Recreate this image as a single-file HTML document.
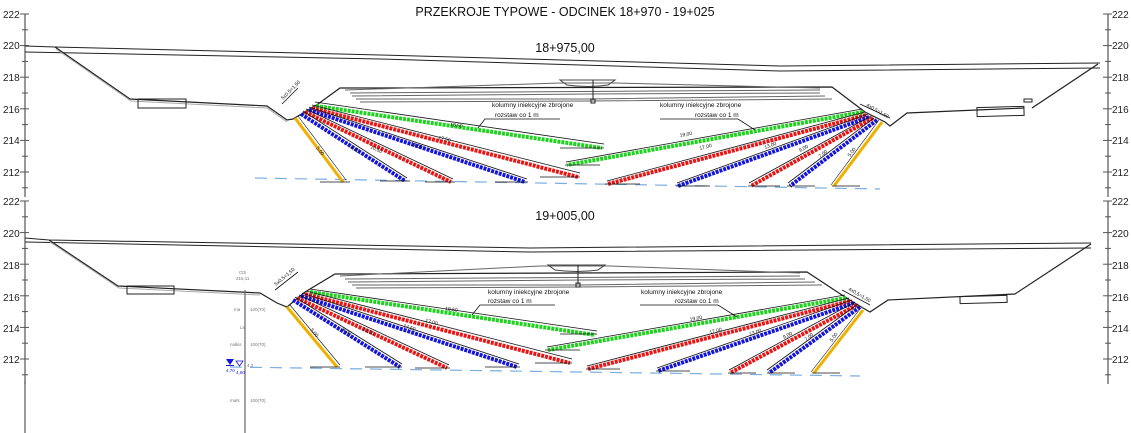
<!DOCTYPE html>
<html><head><meta charset="utf-8"><style>
html,body{margin:0;padding:0;background:#fff;}
svg{display:block;font-family:"Liberation Sans",sans-serif;}
</style></head><body>
<svg width="1131" height="433" viewBox="0 0 1131 433" xmlns="http://www.w3.org/2000/svg">
<rect width="1131" height="433" fill="#fff"/>
<defs>
<g id="axisL">
  <line x1="25" y1="0" x2="25" y2="183" stroke="#555" stroke-width="1.2"/>
  <g stroke="#555" stroke-width="1">
    <line x1="20" y1="0" x2="29" y2="0"/><line x1="22" y1="15.8" x2="28" y2="15.8"/>
    <line x1="20" y1="31.6" x2="29" y2="31.6"/><line x1="22" y1="47.4" x2="28" y2="47.4"/>
    <line x1="20" y1="63.2" x2="29" y2="63.2"/><line x1="22" y1="79" x2="28" y2="79"/>
    <line x1="20" y1="94.8" x2="29" y2="94.8"/><line x1="22" y1="110.6" x2="28" y2="110.6"/>
    <line x1="20" y1="126.4" x2="29" y2="126.4"/><line x1="22" y1="142.2" x2="28" y2="142.2"/>
    <line x1="20" y1="158" x2="29" y2="158"/><line x1="22" y1="173.8" x2="28" y2="173.8"/>
  </g>
</g>
</defs>

<!-- title -->
<text x="565" y="16" font-size="12.5" text-anchor="middle" fill="#111">PRZEKROJE TYPOWE - ODCINEK 18+970 - 19+025</text>
<text x="565" y="52" font-size="12.5" text-anchor="middle" fill="#111">18+975,00</text>
<text x="565" y="220" font-size="12.5" text-anchor="middle" fill="#111">19+005,00</text>

<!-- axes top -->
<g transform="translate(0,14)"><use href="#axisL"/></g>
<g transform="translate(1083,14)"><use href="#axisL"/></g>
<g font-size="10" fill="#222">
<text x="3" y="18">222</text><text x="3" y="49">220</text><text x="3" y="81">218</text><text x="3" y="113">216</text><text x="3" y="144">214</text><text x="3" y="176">212</text>
<text x="1112" y="18">222</text><text x="1112" y="49">220</text><text x="1112" y="81">218</text><text x="1112" y="113">216</text><text x="1112" y="144">214</text><text x="1112" y="176">212</text>
</g>
<!-- axes bottom -->
<g transform="translate(0,201)"><use href="#axisL"/></g>
<g transform="translate(1083,201)"><use href="#axisL"/></g>
<g transform="translate(0,201) translate(25,0)"><line x1="0" y1="180" x2="0" y2="232" stroke="#555" stroke-width="1.2"/></g>
<g font-size="10" fill="#222">
<text x="3" y="205">222</text><text x="3" y="237">220</text><text x="3" y="269">218</text><text x="3" y="301">216</text><text x="3" y="332">214</text><text x="3" y="363">212</text>
<text x="1112" y="205">222</text><text x="1112" y="237">220</text><text x="1112" y="269">218</text><text x="1112" y="301">216</text><text x="1112" y="332">214</text><text x="1112" y="363">212</text>
</g>

<!-- ================= TOP SECTION ================= -->
<g fill="none" stroke="#222" stroke-width="1">
  <polyline points="25,46 55,47 380,55 780,66 1100,63"/>
  <polyline points="25,52 380,59 780,71 1100,68"/>
  <polyline points="55,47 130,99 267,106 287,120 293,119 318,104" stroke-width="1.2"/>
  <polyline points="56,49 131,101 267,108 287,122" stroke="#aaa"/>
  <rect x="138" y="99" width="48" height="9"/>
  <!-- structure -->
  <polyline points="318,104 340,88 832,87 865,112" stroke-width="1.2"/>
  <polyline points="345,90 560,83 615,83 820,88" stroke="#666"/>
  <polyline points="350,93 820,90" stroke="#666"/>
  <polyline points="352,96 590,94 820,93" stroke="#666"/>
  <polyline points="356,99 590,99 825,96" stroke="#666"/>
  <polyline points="360,102 590,101 832,99" stroke="#666"/>
  <path d="M560,80 L615,80 L608,85 Q588,88 567,85 Z" stroke="#444"/>
  <line x1="593" y1="80" x2="593" y2="100"/>
  <rect x="591" y="99" width="4" height="4" stroke="#222"/>
  <!-- right ground -->
  <polyline points="865,112 885,122 890,126 907,113 977,110 1024,108" stroke-width="1.2"/>
  <rect x="977" y="107" width="47" height="9" transform="rotate(-1.5 1000 111)"/>
  <rect x="1024" y="99" width="8" height="3"/>
  <polyline points="1032,108 1098,64" stroke-width="1.2"/>
</g>
<!-- water line top -->
<line x1="255" y1="178" x2="880" y2="189" stroke="#7aaee0" stroke-width="1.2" stroke-dasharray="12,8"/>

<!-- columns top left -->
<g stroke-linecap="butt">
  <line x1="315" y1="102" x2="604" y2="144" stroke="#111" stroke-width="0.8"/>
  <line x1="316" y1="106" x2="602" y2="148" stroke="#1ed21e" stroke-width="4" stroke-dasharray="3,1"/>
  <line x1="312" y1="105" x2="580" y2="173" stroke="#111" stroke-width="0.8"/>
  <line x1="312" y1="108" x2="578" y2="177" stroke="#e81515" stroke-width="4" stroke-dasharray="3,1"/>
  <line x1="309" y1="107" x2="527" y2="179" stroke="#111" stroke-width="0.8"/>
  <line x1="309" y1="110" x2="525" y2="182" stroke="#1515d8" stroke-width="4" stroke-dasharray="3,1"/>
  <line x1="306" y1="109" x2="453" y2="179" stroke="#111" stroke-width="0.8"/>
  <line x1="305" y1="112" x2="451" y2="182" stroke="#e81515" stroke-width="4" stroke-dasharray="3,1"/>
  <line x1="303" y1="111" x2="407" y2="178" stroke="#111" stroke-width="0.8"/>
  <line x1="301" y1="114" x2="405" y2="181" stroke="#1515d8" stroke-width="4" stroke-dasharray="3,1"/>
  <line x1="295" y1="118" x2="343" y2="182" stroke="#f0b000" stroke-width="3"/>
  <line x1="298" y1="116" x2="346" y2="180" stroke="#111" stroke-width="0.6"/>
</g>
<!-- columns top right -->
<g>
  <line x1="862" y1="109" x2="566" y2="162" stroke="#111" stroke-width="0.8"/>
  <line x1="863" y1="112" x2="567" y2="165" stroke="#1ed21e" stroke-width="4" stroke-dasharray="3,1"/>
  <line x1="865" y1="112" x2="607" y2="181" stroke="#111" stroke-width="0.8"/>
  <line x1="866" y1="115" x2="608" y2="184" stroke="#e81515" stroke-width="4" stroke-dasharray="3,1"/>
  <line x1="868" y1="114" x2="677" y2="183" stroke="#111" stroke-width="0.8"/>
  <line x1="869" y1="117" x2="678" y2="186" stroke="#1515d8" stroke-width="4" stroke-dasharray="3,1"/>
  <line x1="871" y1="116" x2="749" y2="183" stroke="#111" stroke-width="0.8"/>
  <line x1="873" y1="118" x2="751" y2="186" stroke="#e81515" stroke-width="4" stroke-dasharray="3,1"/>
  <line x1="874" y1="118" x2="788" y2="183" stroke="#111" stroke-width="0.8"/>
  <line x1="877" y1="120" x2="790" y2="186" stroke="#1515d8" stroke-width="4" stroke-dasharray="3,1"/>
  <line x1="879" y1="120" x2="831" y2="185" stroke="#111" stroke-width="0.6"/>
  <line x1="882" y1="122" x2="834" y2="186" stroke="#f0b000" stroke-width="3"/>
</g>
<!-- end marks top -->
<g stroke="#111" stroke-width="0.8">
  <line x1="320" y1="182" x2="350" y2="182"/><line x1="380" y1="181" x2="410" y2="181"/><line x1="425" y1="182" x2="455" y2="182"/>
  <line x1="495" y1="182" x2="528" y2="182"/><line x1="560" y1="148" x2="604" y2="148"/><line x1="540" y1="177" x2="580" y2="177"/>
  <line x1="605" y1="184" x2="640" y2="184"/><line x1="676" y1="186" x2="710" y2="186"/><line x1="748" y1="186" x2="780" y2="186"/>
  <line x1="787" y1="186" x2="815" y2="186"/><line x1="832" y1="186" x2="860" y2="186"/><line x1="565" y1="165" x2="600" y2="165"/>
  <line x1="282" y1="104" x2="298" y2="88"/><line x1="860" y1="104" x2="890" y2="118"/>
</g>
<g font-size="5" fill="#111">
  <text x="283" y="100" transform="rotate(-45 283 100)">5x0,5=1,50</text>
  <text x="866" y="106" transform="rotate(30 866 106)">4x0,5=1,50</text>
  <text x="450" y="126" transform="rotate(8 450 126)">18,50</text>
  <text x="438" y="139" transform="rotate(14 438 139)">17,50</text>
  <text x="410" y="145" transform="rotate(18 410 145)">14,50</text>
  <text x="370" y="148" transform="rotate(25 370 148)">10,50</text>
  <text x="350" y="148" transform="rotate(32 350 148)">8,00</text>
  <text x="316" y="148" transform="rotate(53 316 148)">5,00</text>
  <text x="680" y="137" transform="rotate(-10 680 137)">19,00</text>
  <text x="700" y="150" transform="rotate(-15 700 150)">17,00</text>
  <text x="765" y="149" transform="rotate(-20 765 149)">13,00</text>
  <text x="800" y="152" transform="rotate(-28 800 152)">9,00</text>
  <text x="820" y="158" transform="rotate(-37 820 158)">7,00</text>
  <text x="850" y="157" transform="rotate(-53 850 157)">5,00</text>
</g>
<!-- labels top -->
<g font-size="6.5" fill="#111">
  <text x="492" y="107">kolumny iniekcyjne zbrojone</text>
  <text x="495" y="117">rozstaw co 1 m</text>
  <text x="660" y="107">kolumny iniekcyjne zbrojone</text>
  <text x="695" y="117">rozstaw co 1 m</text>
</g>
<g stroke="#111" stroke-width="0.8" fill="none">
  <polyline points="560,119 485,119 478,128"/>
  <polyline points="660,119 738,119 755,130"/>
</g>

<!-- ================= BOTTOM SECTION ================= -->
<g fill="none" stroke="#222" stroke-width="1">
  <polyline points="25,238 49,240 530,248 1091,243"/>
  <polyline points="25,242 530,252 1091,248"/>
  <polyline points="49,240 118,286 260,293 277,303 287,307 305,292" stroke-width="1.2"/>
  <polyline points="50,242 119,288 260,295" stroke="#aaa"/>
  <rect x="127" y="286" width="47" height="8"/>
  <polyline points="305,292 335,274 807,272 845,297" stroke-width="1.2"/>
  <polyline points="340,276 540,266 610,266 800,273" stroke="#666"/>
  <polyline points="345,279 800,276" stroke="#666"/>
  <polyline points="348,282 580,280 805,279" stroke="#666"/>
  <polyline points="352,285 580,285 815,282" stroke="#666"/>
  <polyline points="356,288 580,287 822,285" stroke="#666"/>
  <path d="M548,265 L605,265 L598,270 Q577,273 555,270 Z" stroke="#444"/>
  <line x1="578" y1="265" x2="578" y2="284"/>
  <rect x="576" y="283" width="4" height="4"/>
  <polyline points="845,297 863,308 870,312 888,300 1015,294 1091,244" stroke-width="1.2"/>
  <rect x="960" y="296" width="47" height="7" transform="rotate(-1.5 983 299)"/>
</g>
<line x1="230" y1="367" x2="860" y2="376" stroke="#7aaee0" stroke-width="1.2" stroke-dasharray="12,8"/>
<!-- borehole -->
<line x1="245" y1="290" x2="245" y2="433" stroke="#666" stroke-width="1.2"/>
<g font-size="4.5" fill="#777">
  <text x="239" y="274">Ct5</text><text x="236" y="280">216,11</text>
  <text x="234" y="311">ma</text><text x="250" y="311">100(70)</text>
  <text x="240" y="329">Ls</text>
  <text x="230" y="346">nalkis</text><text x="250" y="346">100(70)</text>
  <text x="247" y="367">4,3</text>
  <text x="230" y="402">maN</text><text x="250" y="402">100(70)</text>
</g>
<g fill="#1515d8">
  <polygon points="226,359 234,359 230,365"/><rect x="226" y="365" width="8" height="1"/>
  <polygon points="236,361 243,361 239.5,366" fill="none" stroke="#1515d8" stroke-width="0.8"/>
  <text x="226" y="372" font-size="4.5">4,70</text><text x="236" y="374" font-size="4.5">4,60</text>
</g>

<!-- columns bottom left -->
<g>
  <line x1="310" y1="289" x2="597" y2="331" stroke="#111" stroke-width="0.8"/>
  <line x1="310" y1="292" x2="595" y2="335" stroke="#1ed21e" stroke-width="4" stroke-dasharray="3,1"/>
  <line x1="306" y1="291" x2="572" y2="359" stroke="#111" stroke-width="0.8"/>
  <line x1="305" y1="294" x2="570" y2="363" stroke="#e81515" stroke-width="4" stroke-dasharray="3,1"/>
  <line x1="302" y1="293" x2="519" y2="364" stroke="#111" stroke-width="0.8"/>
  <line x1="301" y1="296" x2="517" y2="367" stroke="#1515d8" stroke-width="4" stroke-dasharray="3,1"/>
  <line x1="299" y1="295" x2="449" y2="365" stroke="#111" stroke-width="0.8"/>
  <line x1="297" y1="298" x2="447" y2="368" stroke="#e81515" stroke-width="4" stroke-dasharray="3,1"/>
  <line x1="295" y1="297" x2="402" y2="364" stroke="#111" stroke-width="0.8"/>
  <line x1="293" y1="300" x2="400" y2="367" stroke="#1515d8" stroke-width="4" stroke-dasharray="3,1"/>
  <line x1="287" y1="307" x2="337" y2="367" stroke="#f0b000" stroke-width="3"/>
  <line x1="290" y1="305" x2="340" y2="365" stroke="#111" stroke-width="0.6"/>
</g>
<!-- columns bottom right -->
<g>
  <line x1="845" y1="295" x2="547" y2="347" stroke="#111" stroke-width="0.8"/>
  <line x1="846" y1="298" x2="548" y2="350" stroke="#1ed21e" stroke-width="4" stroke-dasharray="3,1"/>
  <line x1="849" y1="298" x2="587" y2="366" stroke="#111" stroke-width="0.8"/>
  <line x1="850" y1="301" x2="588" y2="369" stroke="#e81515" stroke-width="4" stroke-dasharray="3,1"/>
  <line x1="852" y1="300" x2="657" y2="368" stroke="#111" stroke-width="0.8"/>
  <line x1="854" y1="303" x2="658" y2="371" stroke="#1515d8" stroke-width="4" stroke-dasharray="3,1"/>
  <line x1="855" y1="302" x2="729" y2="370" stroke="#111" stroke-width="0.8"/>
  <line x1="857" y1="305" x2="730" y2="373" stroke="#e81515" stroke-width="4" stroke-dasharray="3,1"/>
  <line x1="858" y1="304" x2="767" y2="370" stroke="#111" stroke-width="0.8"/>
  <line x1="860" y1="307" x2="769" y2="373" stroke="#1515d8" stroke-width="4" stroke-dasharray="3,1"/>
  <line x1="860" y1="309" x2="811" y2="372" stroke="#111" stroke-width="0.6"/>
  <line x1="863" y1="310" x2="814" y2="373" stroke="#f0b000" stroke-width="3"/>
</g>
<g stroke="#111" stroke-width="0.8">
  <line x1="310" y1="367" x2="340" y2="367"/><line x1="365" y1="367" x2="402" y2="367"/><line x1="415" y1="368" x2="450" y2="368"/>
  <line x1="485" y1="367" x2="520" y2="367"/><line x1="560" y1="334" x2="597" y2="334"/><line x1="535" y1="363" x2="572" y2="363"/>
  <line x1="586" y1="369" x2="620" y2="369"/><line x1="656" y1="371" x2="690" y2="371"/><line x1="728" y1="373" x2="756" y2="373"/>
  <line x1="767" y1="373" x2="795" y2="373"/><line x1="812" y1="373" x2="840" y2="373"/><line x1="545" y1="350" x2="580" y2="350"/>
  <line x1="275" y1="290" x2="298" y2="272"/><line x1="842" y1="290" x2="870" y2="305"/>
</g>
<g font-size="5" fill="#111">
  <text x="276" y="286" transform="rotate(-40 276 286)">5x0,5=1,50</text>
  <text x="848" y="290" transform="rotate(30 848 290)">4x0,5=1,50</text>
  <text x="445" y="310" transform="rotate(8 445 310)">18,50</text>
  <text x="425" y="322" transform="rotate(14 425 322)">17,00</text>
  <text x="403" y="327" transform="rotate(18 403 327)">14,50</text>
  <text x="362" y="330" transform="rotate(25 362 330)">10,50</text>
  <text x="342" y="330" transform="rotate(32 342 330)">8,00</text>
  <text x="310" y="330" transform="rotate(50 310 330)">5,00</text>
  <text x="690" y="321" transform="rotate(-10 690 321)">19,00</text>
  <text x="710" y="334" transform="rotate(-15 710 334)">17,00</text>
  <text x="750" y="336" transform="rotate(-20 750 336)">13,00</text>
  <text x="784" y="339" transform="rotate(-28 784 339)">9,00</text>
  <text x="806" y="341" transform="rotate(-37 806 341)">7,00</text>
  <text x="832" y="342" transform="rotate(-53 832 342)">5,00</text>
</g>
<g font-size="6.5" fill="#111">
  <text x="488" y="294">kolumny iniekcyjne zbrojone</text>
  <text x="488" y="303">rozstaw co 1 m</text>
  <text x="641" y="294">kolumny iniekcyjne zbrojone</text>
  <text x="675" y="303">rozstaw co 1 m</text>
</g>
<g stroke="#111" stroke-width="0.8" fill="none">
  <polyline points="555,305 480,305 472,315"/>
  <polyline points="640,305 718,305 737,317"/>
</g>
</svg>
</body></html>
